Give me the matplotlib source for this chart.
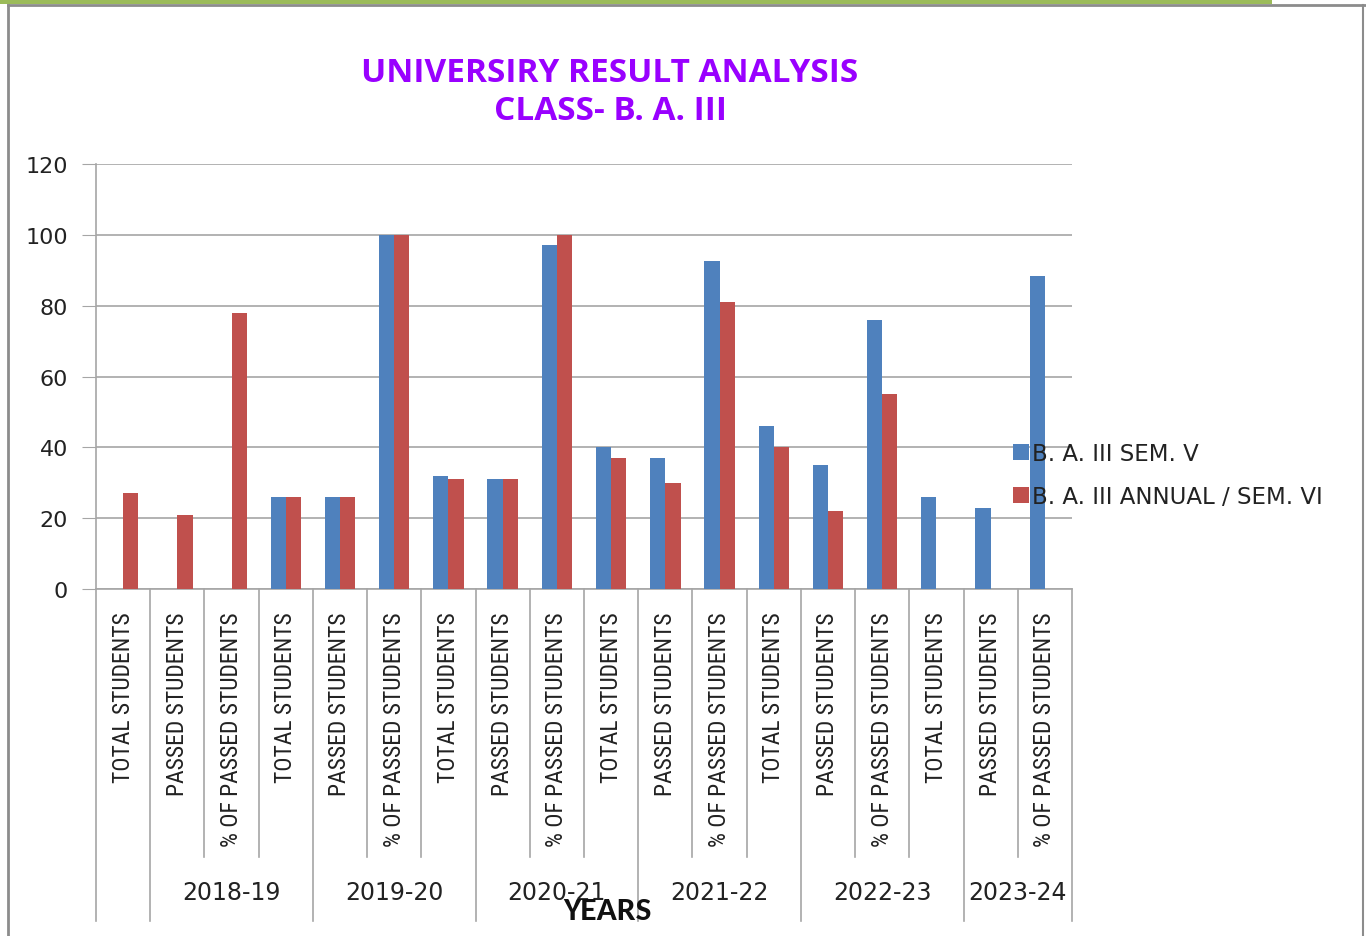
import numpy as np
import matplotlib.pyplot as plt
from matplotlib.lines import Line2D
from matplotlib.patches import Rectangle

categories = ["TOTAL STUDENTS", "PASSED STUDENTS", "% OF PASSED STUDENTS"] * 6
years = ["2018-19", "2019-20", "2020-21", "2021-22", "2022-23", "2023-24"]
# the year labels sit shifted by one category, as in the original sheet
year_spans = [(1, 3), (4, 6), (7, 9), (10, 12), (13, 15), (16, 17)]

sem_v = [0, 0, 0, 26, 26, 100, 32, 31, 97, 40, 37, 92.5, 46, 35, 76, 26, 23, 88.5]
sem_vi = [27, 21, 78, 26, 26, 100, 31, 31, 100, 37, 30, 81, 40, 22, 55, 0, 0, 0]

blue = "#4f81bd"
red = "#c0504d"
grey = "#a6a6a6"

fig = plt.figure(figsize=(13.66, 9.37), dpi=100)
ax = fig.add_axes([96 / 1366, 1 - 590 / 937, 976 / 1366, 425 / 937])

x = np.arange(len(categories))
w = 0.28
ax.bar(x - w / 2, sem_v, w, color=blue, label="B. A. III SEM. V", zorder=3)
ax.bar(x + w / 2, sem_vi, w, color=red, label="B. A. III ANNUAL / SEM. VI", zorder=3)

ax.set_xlim(-0.5, len(categories) - 0.5)
ax.set_ylim(0, 120)
ax.set_yticks(range(0, 121, 20))
ax.tick_params(axis="y", length=10, color=grey, labelsize=16, pad=10, labelcolor="#222222")
ax.tick_params(axis="x", length=0, labelbottom=False)
ax.grid(axis="y", color=grey, linewidth=1.2, zorder=0)
for s in ["top", "right"]:
    ax.spines[s].set_visible(False)
for s in ["left", "bottom"]:
    ax.spines[s].set_color(grey)
    ax.spines[s].set_linewidth(1.2)

# category labels
trans = ax.get_xaxis_transform()
for i, c in enumerate(categories):
    ax.text(i, -0.052, c, rotation=90, ha="center", va="top", transform=trans,
            fontsize=17, family=["Roboto Condensed", "DejaVu Sans"], color="#222222")

# separators
long_b = {-0.5, 0.5, 3.5, 6.5, 9.5, 12.5, 15.5, 17.5}
for b in np.arange(-0.5, len(categories), 1.0):
    y1 = -0.781 if b in long_b else -0.631
    ax.add_line(Line2D([b, b], [0, y1], transform=trans, color=grey, lw=1.2, clip_on=False))

for yr, (a, b) in zip(years, year_spans):
    ax.text((a + b) / 2, -0.713, yr, ha="center", va="center", transform=trans,
            fontsize=17, color="#222222")

ax.text(0.524, -0.756, "YEARS", ha="center", va="center", transform=ax.transAxes,
        fontsize=24, fontweight="bold", family="Carlito", color="#111111")

fig.text(610 / 1366, 1 - 73 / 937, "UNIVERSIRY RESULT ANALYSIS", ha="center", va="center",
         fontsize=24, fontweight="bold", family="Open Sans", color="#9900ff")
fig.text(610 / 1366, 1 - 112 / 937, "CLASS- B. A. III", ha="center", va="center",
         fontsize=24, fontweight="bold", family="Open Sans", color="#9900ff")

fig.legend(loc="center left", bbox_to_anchor=(1004 / 1366, 1 - 476 / 937), frameon=False,
           fontsize=16.5, handlelength=0.7, handleheight=0.7, handletextpad=0.1,
           labelspacing=0.9, borderaxespad=0, labelcolor="#222222")

# page frame
fig.add_artist(Rectangle((0, 1 - 5 / 937), 1272 / 1366, 5 / 937, transform=fig.transFigure,
                         color="#9bbb59", lw=0))
fig.add_artist(Line2D([8 / 1366, 1], [1 - 6 / 937] * 2, transform=fig.transFigure, color="#8c8c8c", lw=2))
fig.add_artist(Line2D([8 / 1366] * 2, [0, 1 - 6 / 937], transform=fig.transFigure, color="#8c8c8c", lw=2))
fig.add_artist(Line2D([1363 / 1366] * 2, [0, 1 - 6 / 937], transform=fig.transFigure, color="#8c8c8c", lw=1.5))

fig.savefig("out.png", dpi=100)
